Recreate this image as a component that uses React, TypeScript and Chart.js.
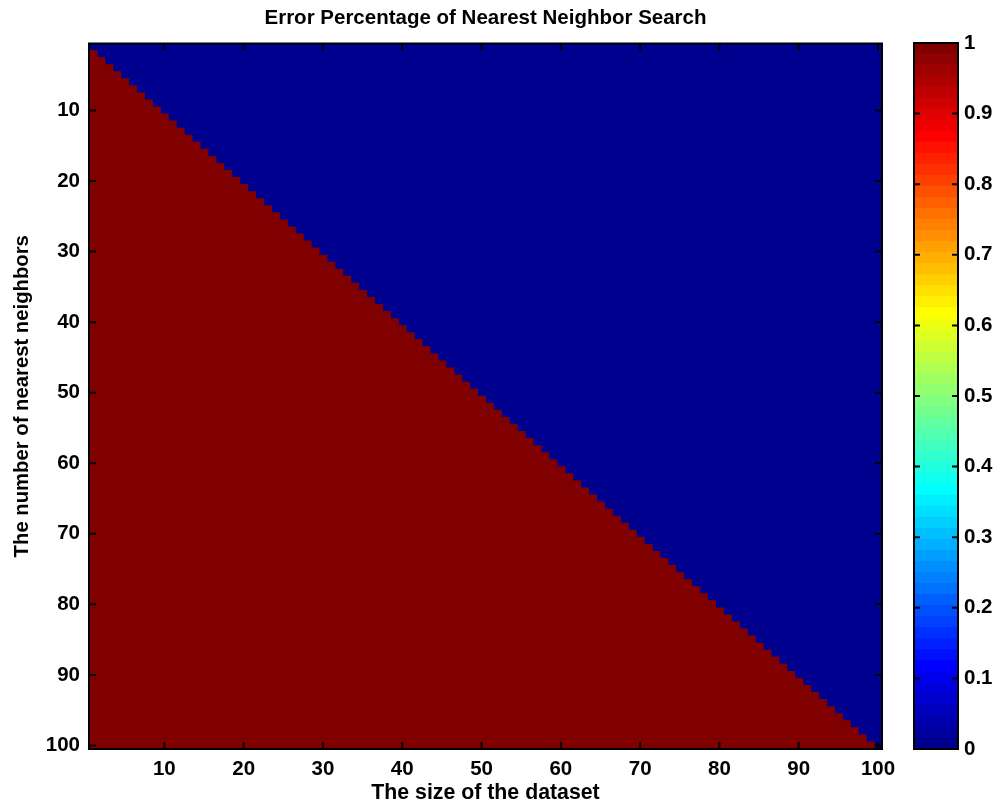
import React, { useEffect, useRef } from "react";
import { Chart, registerables } from "chart.js";

Chart.register(...registerables);

// ---------- text ----------
const chartTitle = "Error Percentage of Nearest Neighbor Search";
const xAxisTitle = "The size of the dataset";
const yAxisTitle = "The number of nearest neighbors";

// ---------- data ----------
// rows: number of nearest neighbors (top to bottom)
const neighborCounts = [
  1, 2, 3, 4, 5, 6, 7, 8, 9, 10, 11, 12, 13, 14, 15, 16, 17, 18, 19, 20,
  21, 22, 23, 24, 25, 26, 27, 28, 29, 30, 31, 32, 33, 34, 35, 36, 37, 38, 39, 40,
  41, 42, 43, 44, 45, 46, 47, 48, 49, 50, 51, 52, 53, 54, 55, 56, 57, 58, 59, 60,
  61, 62, 63, 64, 65, 66, 67, 68, 69, 70, 71, 72, 73, 74, 75, 76, 77, 78, 79, 80,
  81, 82, 83, 84, 85, 86, 87, 88, 89, 90, 91, 92, 93, 94, 95, 96, 97, 98, 99, 100,
];
// columns: dataset size range
const datasetSizeFirst = 1;
const datasetSizeLast = 100;
// per row: how many dataset sizes (starting at the first) have error = 1
const errorOneRunLength = [
  0, 1, 2, 3, 4, 5, 6, 7, 8, 9, 10, 11, 12, 13, 14, 15, 16, 17, 18, 19,
  20, 21, 22, 23, 24, 25, 26, 27, 28, 29, 30, 31, 32, 33, 34, 35, 36, 37, 38, 39,
  40, 41, 42, 43, 44, 45, 46, 47, 48, 49, 50, 51, 52, 53, 54, 55, 56, 57, 58, 59,
  60, 61, 62, 63, 64, 65, 66, 67, 68, 69, 70, 71, 72, 73, 74, 75, 76, 77, 78, 79,
  80, 81, 82, 83, 84, 85, 86, 87, 88, 89, 90, 91, 92, 93, 94, 95, 96, 97, 98, 99,
];
// error value inside the run, and for the rest of the row
const errorInRun = 1;
const errorOutsideRun = 0;

// ---------- ticks ----------
const xTickValues = [10, 20, 30, 40, 50, 60, 70, 80, 90, 100];
const yTickValues = [10, 20, 30, 40, 50, 60, 70, 80, 90, 100];
const colorbarTickValues = [0, 0.1, 0.2, 0.3, 0.4, 0.5, 0.6, 0.7, 0.8, 0.9, 1];
const colorbarMin = 0;
const colorbarMax = 1;
const colormapSize = 64;

// ---------- styling ----------
const FONT_FAMILY = "'Liberation Sans', Arial, Helvetica, sans-serif";
const tickFont = { family: FONT_FAMILY, size: 20.5, weight: "bold" as const, lineHeight: 1 };
const xTitleFont = { family: FONT_FAMILY, size: 21.3, weight: "bold" as const, lineHeight: 1 };
const yTitleFont = { family: FONT_FAMILY, size: 20.3, weight: "bold" as const, lineHeight: 1 };

// MATLAB jet colormap
function jetU(j: number, n: number): number {
  if (j < 1 || j > 3 * n - 1) return 0;
  if (j <= n) return j / n;
  if (j <= 2 * n - 1) return 1;
  return (3 * n - j) / n;
}
function jetIndexColor(idx: number, m: number): string {
  const n = Math.ceil(m / 4);
  const shift = Math.ceil(n / 2) - (m % 4 === 1 ? 1 : 0);
  const g = jetU(idx - shift, n);
  const r = jetU(idx - shift - n, n);
  const b = jetU(idx - shift + n, n);
  return `rgb(${Math.round(r * 255)},${Math.round(g * 255)},${Math.round(b * 255)})`;
}
function jetValueColor(v: number): string {
  const t = (v - colorbarMin) / (colorbarMax - colorbarMin);
  const idx = Math.min(colormapSize, Math.max(1, Math.floor(t * colormapSize) + 1));
  return jetIndexColor(idx, colormapSize);
}

function frameTicksPlugin(id: string, tickLen: number, withX: boolean) {
  return {
    id,
    afterDraw(chart: any) {
      const { ctx, chartArea: a, scales } = chart;
      ctx.save();
      ctx.strokeStyle = "#000";
      ctx.lineWidth = 2;
      ctx.beginPath();
      if (withX && scales.x) {
        for (const t of scales.x.ticks) {
          const px = scales.x.getPixelForValue(t.value);
          ctx.moveTo(px, a.bottom);
          ctx.lineTo(px, a.bottom - tickLen);
          ctx.moveTo(px, a.top);
          ctx.lineTo(px, a.top + tickLen);
        }
      }
      if (scales.y) {
        for (const t of scales.y.ticks) {
          const py = scales.y.getPixelForValue(t.value);
          ctx.moveTo(a.left, py);
          ctx.lineTo(a.left + tickLen, py);
          ctx.moveTo(a.right, py);
          ctx.lineTo(a.right - tickLen, py);
        }
      }
      ctx.stroke();
      ctx.strokeRect(a.left, a.top, a.right - a.left, a.bottom - a.top);
      ctx.restore();
    },
  };
}

const W = 1007;
const H = 805;

export default function App() {
  const mainRef = useRef<HTMLCanvasElement | null>(null);
  const barRef = useRef<HTMLCanvasElement | null>(null);

  useEffect(() => {
    if (!mainRef.current || !barRef.current) return;

    const lo = datasetSizeFirst - 0.5;
    const hi = datasetSizeLast + 0.5;
    const barCommon = {
      grouped: false,
      barPercentage: 1,
      categoryPercentage: 1,
      borderWidth: 0,
      inflateAmount: 0.5,
    };

    const main = new Chart(mainRef.current, {
      type: "bar",
      data: {
        labels: neighborCounts.map(String),
        datasets: [
          {
            label: "error = 1",
            data: errorOneRunLength.map((run) => [lo, lo + run]) as any,
            backgroundColor: jetValueColor(errorInRun),
            ...barCommon,
          },
          {
            label: "error = 0",
            data: errorOneRunLength.map((run) => [lo + run, hi]) as any,
            backgroundColor: jetValueColor(errorOutsideRun),
            ...barCommon,
          },
        ],
      },
      options: {
        indexAxis: "y",
        responsive: false,
        animation: false,
        events: [],
        layout: { padding: { left: 0, right: 125, top: 0, bottom: 0 } },
        plugins: {
          legend: { display: false },
          tooltip: { enabled: false },
          title: {
            display: true,
            fullSize: false,
            text: chartTitle,
            color: "#000",
            font: { family: FONT_FAMILY, size: 20.5, weight: "bold", lineHeight: 1 },
            padding: { top: 8, bottom: 15 },
          },
        },
        scales: {
          x: {
            type: "linear",
            min: lo,
            max: hi,
            grid: { display: false, drawTicks: false },
            border: { display: false },
            afterBuildTicks: (s: any) => {
              s.ticks = xTickValues.map((v) => ({ value: v }));
            },
            ticks: {
              color: "#000",
              font: tickFont,
              padding: 10,
              maxRotation: 0,
              autoSkip: false,
              callback: (v: any) => String(v),
            },
            title: {
              display: true,
              text: xAxisTitle,
              color: "#000",
              font: xTitleFont,
              padding: { top: 0, bottom: 1 },
            },
            afterFit: (s: any) => {
              s.height = 56;
            },
          },
          y: {
            type: "category",
            offset: true,
            grid: { display: false, drawTicks: false },
            border: { display: false },
            afterBuildTicks: (s: any) => {
              s.ticks = yTickValues.map((v) => ({ value: neighborCounts.indexOf(v) }));
            },
            ticks: {
              color: "#000",
              font: tickFont,
              padding: 9,
              autoSkip: false,
              callback: (v: any) => String(neighborCounts[v]),
            },
            title: {
              display: true,
              text: yAxisTitle,
              color: "#000",
              font: yTitleFont,
              padding: { top: 12, bottom: 0 },
            },
            afterFit: (s: any) => {
              s.width = 89;
            },
          },
        },
      } as any,
      plugins: [frameTicksPlugin("mainFrame", 7, true)],
    });

    const levels = Array.from({ length: colormapSize }, (_, i) => i);
    const step = (colorbarMax - colorbarMin) / colormapSize;
    const bar = new Chart(barRef.current, {
      type: "bar",
      data: {
        labels: ["colorbar"],
        datasets: levels.map((i) => ({
          label: `level ${i + 1}`,
          data: [[colorbarMin + i * step, colorbarMin + (i + 1) * step]] as any,
          backgroundColor: jetIndexColor(i + 1, colormapSize),
          ...barCommon,
        })),
      },
      options: {
        responsive: false,
        animation: false,
        events: [],
        layout: { padding: { left: 914, right: 0, top: 43, bottom: 56 } },
        plugins: { legend: { display: false }, tooltip: { enabled: false }, title: { display: false } },
        scales: {
          x: { type: "category", display: false, offset: true },
          y: {
            type: "linear",
            position: "right",
            min: colorbarMin,
            max: colorbarMax,
            grid: { display: false, drawTicks: false },
            border: { display: false },
            afterBuildTicks: (s: any) => {
              s.ticks = colorbarTickValues.map((v) => ({ value: v }));
            },
            ticks: {
              color: "#000",
              font: tickFont,
              padding: 6,
              autoSkip: false,
              callback: (v: any) => String(v),
            },
            afterFit: (s: any) => {
              s.width = 49;
            },
          },
        },
      } as any,
      plugins: [frameTicksPlugin("barFrame", 6, false)],
    });

    return () => {
      main.destroy();
      bar.destroy();
    };
  }, []);

  return (
    <div style={{ position: "absolute", left: 0, top: 0, width: W, height: H, background: "#fff" }}>
      <canvas
        ref={mainRef}
        width={W}
        height={H}
        style={{ position: "absolute", left: 0, top: 0, width: W, height: H }}
      />
      <canvas
        ref={barRef}
        width={W}
        height={H}
        style={{ position: "absolute", left: 0, top: 0, width: W, height: H }}
      />
    </div>
  );
}
